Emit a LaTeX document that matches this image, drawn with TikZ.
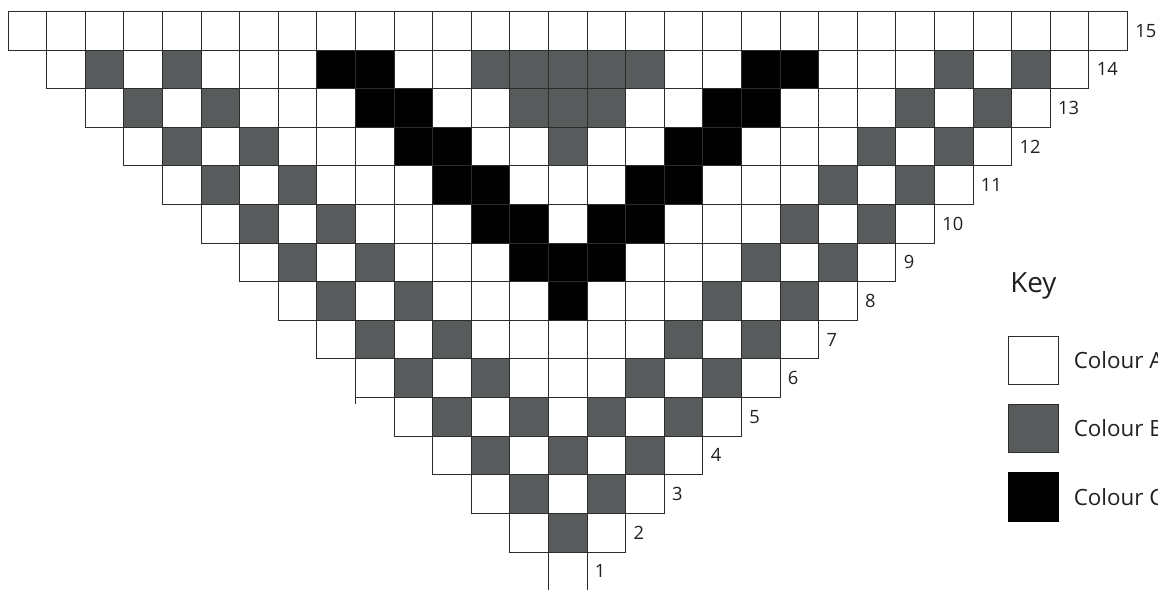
\documentclass[tikz,border=0pt]{standalone}
\usepackage{fontspec}
\setmainfont{Open Sans}
\usepackage{tikz}
\usetikzlibrary{positioning}
\usepackage{xcolor}
\definecolor{chartInk}{HTML}{231F20}
\definecolor{chartGrey}{HTML}{585B5B}
\definecolor{chartLine}{HTML}{2B2B2B}

\begin{document}
\begin{tikzpicture}[
    cell/.style={draw=chartLine, line width=0.6pt},
    rowlabel/.style={anchor=west, inner sep=0pt, text=chartInk, font=\fontsize{13.5}{16}\selectfont},
    keybox/.style={minimum width=1.3cm, minimum height=1.25cm, inner sep=0pt, line width=0.6pt},
    keytext/.style={inner sep=0pt, text=chartInk, font=\fontsize{16.5}{20}\selectfont}
  ]
  \useasboundingbox (-0.207,0.039) rectangle (29.793,15.298);
  % Colour B (gris), fila/columnas
  \foreach \n/\cols in {14/{2,4,12,13,14,15,16,24,26}, 13/{3,5,13,14,15,23,25},
                        12/{4,6,14,22,24}, 11/{5,7,21,23}, 10/{6,8,20,22},
                        9/{7,9,19,21}, 8/{8,10,18,20}, 7/{9,11,17,19},
                        6/{10,12,16,18}, 5/{11,13,15,17}, 4/{12,14,16},
                        3/{13,15}, 2/{14}} {
    \foreach \c in \cols
      \fill[chartGrey] (\c,\n-1) rectangle ++(1,1);
  }
  % Colour C (negro)
  \foreach \n/\cols in {14/{8,9,19,20}, 13/{9,10,18,19}, 12/{10,11,17,18},
                        11/{11,12,16,17}, 10/{12,13,15,16}, 9/{13,14,15}, 8/{14}} {
    \foreach \c in \cols
      \fill[black] (\c,\n-1) rectangle ++(1,1);
  }
  % Rejilla: la fila n va de la columna 15-n a la 13+n
  \foreach \n in {2,...,15} {
    \pgfmathtruncatemacro{\first}{15-\n}
    \pgfmathtruncatemacro{\last}{13+\n}
    \foreach \c in {\first,...,\last}
      \draw[cell] (\c,\n-1) rectangle ++(1,1);
  }
  \draw[cell] (14,0) -- (14,1) (15,1) -- (15,0);
  \draw[cell] (9,5) -- (9,4.83);
  % Numeros de fila
  \foreach \n in {1,...,15}
    \node[rowlabel] (lbl\n) at (14.2+\n, \n-0.5) {\n};
  % Leyenda
  \node[anchor=base west, inner sep=0pt, text=chartInk, font=\fontsize{20.5}{24}\selectfont]
    (keytitle) at (25.96,7.73) {Key};
  \node[keybox, draw=chartLine, fill=white] (keyA) at (26.555,5.97) {};
  \node[keybox, draw=chartLine, fill=chartGrey, below=0.5cm of keyA] (keyB) {};
  \node[keybox, draw=black, fill=black, below=0.5cm of keyB] (keyC) {};
  \node[keytext, right=0.39cm of keyA] (txtA) {Colour A};
  \node[keytext, right=0.39cm of keyB] (txtB) {Colour B};
  \node[keytext, right=0.39cm of keyC] (txtC) {Colour C};
\end{tikzpicture}
\end{document}
